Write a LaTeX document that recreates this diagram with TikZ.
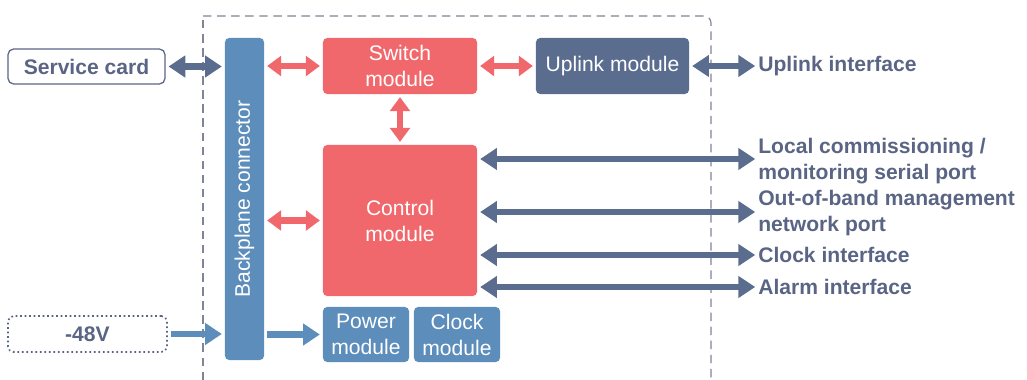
\documentclass[tikz,border=0pt]{standalone}
\usepackage{fontspec}
\setmainfont{Liberation Sans}
\usetikzlibrary{arrows.meta}

\definecolor{swred}{HTML}{F0686C}
\definecolor{upblue}{HTML}{5A6D8F}
\definecolor{bpblue}{HTML}{5C8DBB}
\definecolor{lbltxt}{HTML}{5A6585}
\definecolor{frame}{HTML}{7F8496}

\newcommand{\boxfont}{\fontsize{15}{18.5}\selectfont}

\tikzset{
  modbox/.style={rounded corners=3pt, text=white, align=center, inner sep=0pt, font=\boxfont},
  redbox/.style={modbox, fill=swred},
  upbox/.style={modbox, fill=upblue},
  bpbox/.style={modbox, fill=bpblue},
  outlbl/.style={anchor=west, inner sep=0pt, align=left, text=lbltxt, font=\boxfont\bfseries},
  redarr/.style={draw=swred, line width=4.4pt, {Triangle[length=10pt,width=14pt]}-{Triangle[length=10pt,width=14pt]}, shorten <=2pt, shorten >=2pt},
  bluearr/.style={draw=upblue, line width=4.4pt, {Triangle[length=12pt,width=15pt]}-{Triangle[length=12pt,width=15pt]}, shorten <=2pt, shorten >=2pt},
  pwrarr/.style={draw=bpblue, line width=4.4pt, -{Triangle[length=12pt,width=15pt]}, shorten <=2pt, shorten >=2pt},
}

\begin{document}
\begin{tikzpicture}[x=0.025cm, y=-0.025cm]
    \useasboundingbox (0,0) rectangle (1027,380);

    % board outline
    \draw[frame, dash pattern=on 6pt off 4pt, line width=0.8pt] (203,380) -- (203,16);
    \draw[frame, dash pattern=on 6pt off 4pt, line width=0.8pt, rounded corners=5pt] (203,16) -- (711,16) -- (711,380);

    % modules
    \node[bpbox, minimum width=0.975cm, minimum height=8.05cm] (bp) at (244.5,199) {};
    \node[bpbox, rotate=90] at (bp.center) {Backplane connector};
    \node[redbox, minimum width=3.85cm, minimum height=1.4cm] (sw) at (400,66) {Switch\\module};
    \node[upbox, minimum width=3.825cm, minimum height=1.4cm] (up) at (612.5,66) {Uplink module};
    \node[redbox, minimum width=3.85cm, minimum height=3.775cm] (ctl) at (400,220.5) {Control\\module};
    \node[bpbox, minimum width=2.15cm, minimum height=1.375cm] (pwr) at (366,334.5) {Power\\module};
    \node[bpbox, minimum width=2.15cm, minimum height=1.375cm] (clk) at (457,334.5) {Clock\\module};

    % outside
    \node[draw=lbltxt, line width=0.9pt, rounded corners=4pt, text=lbltxt, font=\boxfont\bfseries,
          minimum width=3.925cm, minimum height=0.875cm, inner sep=0pt] (svc) at (86.5,66.5) {Service card};
    \node[draw=lbltxt, dotted, line width=1.2pt, rounded corners=4pt, text=lbltxt, font=\boxfont\bfseries,
          minimum width=3.975cm, minimum height=0.9cm, inner sep=0pt] (dc) at (87.5,334) {-48V};

    \node[outlbl] (upif) at (758,66) {Uplink interface};
    \node[outlbl] (serial) at (758,161) {Local commissioning /\\monitoring serial port};
    \node[outlbl] (oob) at (758,213) {Out-of-band management\\network port};
    \node[outlbl] (clkif) at (758,255) {Clock interface};
    \node[outlbl] (alm) at (758,287) {Alarm interface};

    % connections
    \draw[bluearr] (svc.east) -- (bp.west |- svc.east);
    \draw[redarr] (bp.east |- sw.west) -- (sw.west);
    \draw[redarr] (sw.east) -- (up.west);
    \draw[redarr] (sw.south) -- (ctl.north);
    \draw[redarr] (bp.east |- ctl.west) -- (ctl.west);
    \draw[bluearr] (up.east) -- (upif.west);
    \draw[bluearr] (ctl.east |- 0,159) -- (serial.west |- 0,159);
    \draw[bluearr] (ctl.east |- 0,212) -- (oob.west |- 0,212);
    \draw[bluearr] (ctl.east |- clkif.west) -- (clkif.west);
    \draw[bluearr] (ctl.east |- alm.west) -- (alm.west);
    \draw[pwrarr] (dc.east) -- (bp.west |- dc.east);
    \draw[pwrarr] (bp.east |- pwr.west) -- (pwr.west);
\end{tikzpicture}
\end{document}
